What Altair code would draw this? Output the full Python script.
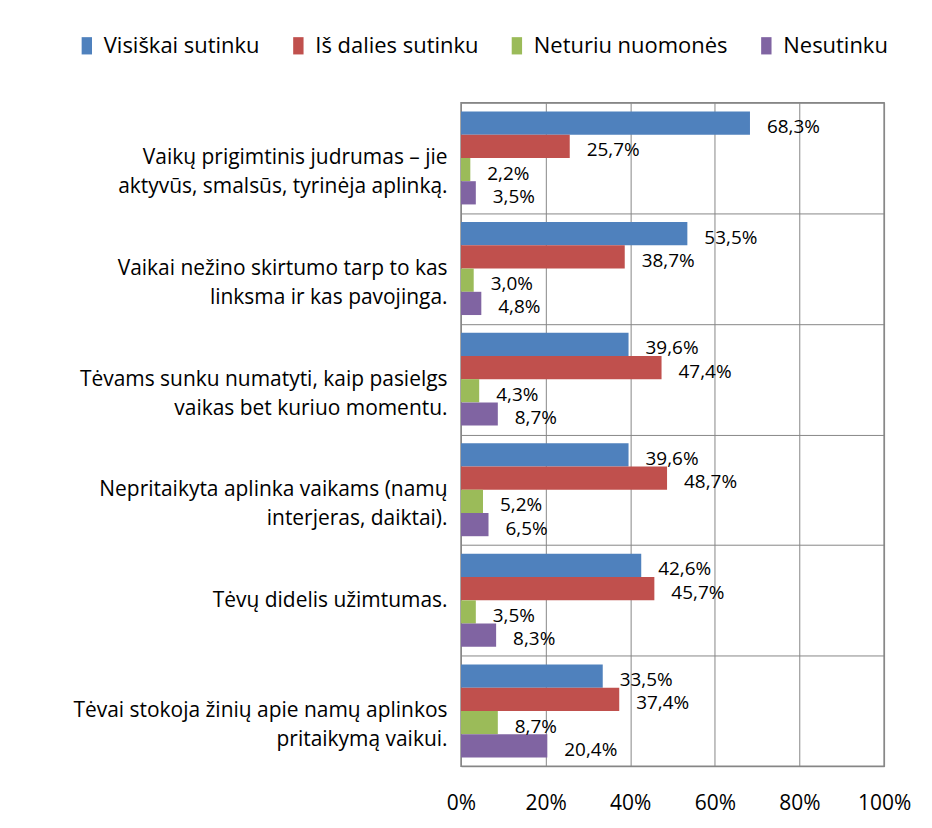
import altair as alt
import pandas as pd

categories = [
    "Vaikų prigimtinis judrumas – jie|aktyvūs, smalsūs, tyrinėja aplinką.",
    "Vaikai nežino skirtumo tarp to kas|linksma ir kas pavojinga.",
    "Tėvams sunku numatyti, kaip pasielgs|vaikas bet kuriuo momentu.",
    "Nepritaikyta aplinka vaikams (namų|interjeras, daiktai).",
    "Tėvų didelis užimtumas.",
    "Tėvai stokoja žinių apie namų aplinkos|pritaikymą vaikui.",
]
series = ["Visiškai sutinku", "Iš dalies sutinku", "Neturiu nuomonės", "Nesutinku"]
colors = ["#4F81BD", "#C0504D", "#9BBB59", "#8064A2"]

visiskai = [68.3, 53.5, 39.6, 39.6, 42.6, 33.5]
is_dalies = [25.7, 38.7, 47.4, 48.7, 45.7, 37.4]
neturiu = [2.2, 3.0, 4.3, 5.2, 3.5, 8.7]
nesutinku = [3.5, 4.8, 8.7, 6.5, 8.3, 20.4]
x_ticks = [0, 20, 40, 60, 80, 100]

rows = []
for i, c in enumerate(categories):
    for s, vals in zip(series, [visiskai, is_dalies, neturiu, nesutinku]):
        v = vals[i]
        rows.append({"cat": c, "series": s, "value": v,
                     "label": f"{v:.1f}".replace(".", ",") + "%"})
df = pd.DataFrame(rows)

FONT = "Open Sans"
GRID = "#878787"

y = alt.Y("cat:N", sort=categories,
          scale=alt.Scale(paddingInner=0, paddingOuter=0),
          axis=alt.Axis(title=None, labelExpr="split(datum.label, '|')",
                        tickBand="extent", grid=True, ticks=False, domain=False,
                        labelFontSize=21, labelFont=FONT, labelLineHeight=29,
                        labelPadding=14, labelColor="black", gridColor=GRID,
                        gridOpacity=1, labelLimit=0))
yoff = alt.YOffset("series:N", sort=series,
                   scale=alt.Scale(domain=series, paddingOuter=0.38, paddingInner=0))
x = alt.X("value:Q", scale=alt.Scale(domain=[0, 100]),
          axis=alt.Axis(values=x_ticks, labelExpr="datum.value + '%'", title=None,
                        ticks=False, domain=False, grid=True, gridColor=GRID,
                        gridOpacity=1, labelPadding=26, labelFontSize=21,
                        labelFont=FONT, labelColor="black", labelFlush=False))

bars = alt.Chart(df).mark_bar().encode(
    x=x, y=y, yOffset=yoff,
    color=alt.Color("series:N", sort=series,
                    scale=alt.Scale(domain=series, range=colors),
                    legend=alt.Legend(title=None, orient="none", legendX=-386,
                                      legendY=-68, direction="horizontal",
                                      symbolType="M-0.6,-1H0.6V1H-0.6Z",
                                      symbolSize=300, symbolStrokeWidth=0,
                                      labelFontSize=22, labelFont=FONT,
                                      labelColor="black", columnPadding=27,
                                      labelOffset=6, labelLimit=0)),
)

labels = alt.Chart(df).mark_text(align="left", baseline="middle", dx=17, dy=4,
                                 fontSize=19, font=FONT, color="black").encode(
    x=x, y=y, yOffset=yoff, text="label:N"
)

chart = alt.layer(bars, labels).properties(
    width=424, height=665,
    autosize=alt.AutoSizeParams(type="none"),
    padding={"left": 454, "top": 94, "right": 40, "bottom": 50},
).configure_view(stroke=GRID, strokeWidth=1.5)

chart.save("out.html", embed_options={"renderer": "svg", "actions": False})
